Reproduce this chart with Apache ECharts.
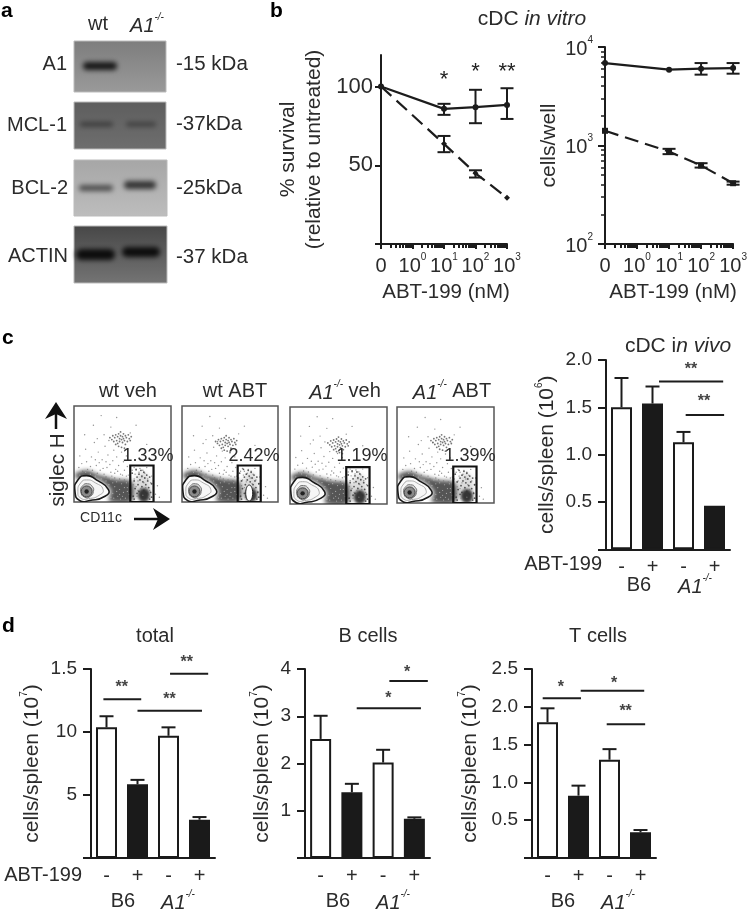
<!DOCTYPE html>
<html><head><meta charset="utf-8">
<style>html,body{margin:0;padding:0;background:#fff}#c{width:750px;height:910px}</style>
<script src="https://cdn.jsdelivr.net/npm/echarts@6/dist/echarts.min.js"></script>
</head><body><div id="c"></div>
<script>
// ---------- data ----------
const doseX = [0.1, 10, 100, 1000];              // "0" is drawn one decade below 10^0
const survivalWt = [100, 85.8, 86.9, 88.3];
const survivalWtErr = [[100,100],[82,89],[76.7,97.9],[79.4,98.9]];
const survivalKo = [100, 63.6, 44.9, 29.4];
const survivalKoErr = [[100,100],[58.3,68.6],[42.2,46.8],[29.4,29.4]];
const wellWt = [6870, 5880, 6020, 6110];
const wellWtErr = [[6870,6870],[5880,5880],[5240,6870],[5360,6870]];
const wellKo = [1410, 869, 626, 414];
const wellKoErr = [[1410,1410],[817,925],[597,661],[400,430]];
const treatment = ['-', '+', '-', '+'];
const cdcVivo = [1.5, 1.54, 1.13, 0.46];
const cdcVivoHi = [1.81, 1.72, 1.24, 0.465];
const totalCells = [10.37, 5.85, 9.7, 3.04];
const totalHi = [11.25, 6.2, 10.37, 3.25];
const bCells = [2.52, 1.39, 2.02, 0.83];
const bHi = [3.01, 1.57, 2.29, 0.86];
const tCells = [1.795, 0.825, 1.30, 0.34];
const tHi = [1.98, 0.957, 1.44, 0.37];
const flowTitles = ['wt veh', 'wt ABT', '{i|A1}{si|-/-} veh', '{i|A1}{si|-/-} ABT'];
const flowPercents = ['1.33%', '2.42%', '1.19%', '1.39%'];
const flowCluster = [[48,66],[46,62],[50,62],[46,64]];
const flowSpeckle = [[8,40],[12,55],[14,34],[18,47],[21,62],[23,38],[25,52],[27,33],[29,44],[31,70],[32,58],[34,36],[35,49],[38,78],[38,31],[40,43],[41,54],[43,34],[44,47],[46,38],[48,29],[49,52],[51,42],[52,33],[54,48],[55,37],[56,28],[9,32],[16,30],[24,66],[31,29],[36,64],[60,33],[63,29],[67,31],[70,26],[73,30],[62,24],[66,22],[72,20],[76,24],[64,16],[69,14],[74,15],[78,12],[80,27],[84,8],[86,17],[88,5],[58,72],[64,80],[20,80],[11,70],[6,48],[5,36],[42,25],[47,24],[52,23],[39,27],[33,26],[57,21],[61,18],[44,88],[75,60],[28,90],[66,12],[71,7],[77,6],[65,6],[60,11],[13,42],[17,37],[22,44],[26,41],[19,33],[30,35],[33,42],[37,39],[24,30],[42,30],[45,32],[50,28],[54,27],[58,26],[68,35],[75,36],[64,33],[79,20],[62,36],[71,33]];
const clusterDots = [[-11,1],[-9,-1],[-8,3],[-7,-3],[-6,1],[-5,4],[-4,-2],[-3,2],[-3,-5],[-2,5],[-1,0],[-1,-3],[0,3],[0,7],[1,-1],[2,-4],[2,2],[3,5],[3,0],[4,-2],[5,3],[5,-6],[6,1],[7,-3],[8,4],[9,0],[10,-2],[11,2],[-2,-8],[1,-9],[4,-10],[-5,-6]];
const gateDots = [[60,30],[62,22],[64,34],[65,26],[66,18],[67,29],[68,23],[69,33],[70,16],[70,27],[71,21],[72,12],[72,31],[73,25],[74,18],[75,9],[75,28],[76,22],[77,15],[78,26],[79,10],[80,19],[63,14],[65,9],[61,6],[67,11],[80,5],[78,3],[62,3]];
const smearHoles = [[36,18],[40,9],[42,16],[45,6],[47,13],[49,19],[51,10],[53,4],[55,15],[57,8],[38,24],[44,21],[28,24],[22,27],[33,22],[12,31],[17,29],[6,28],[41,4],[48,3],[54,20],[44,11],[52,15],[58,18],[38,5],[47,8],[55,11],[40,20],[50,6]];
const sigC = [[1.21,3.28,1.774],[2.07,3.31,1.418]];
const sigCLabels = [[2.24,1.93,'**'],[2.66,1.59,'**']];
const sigTotal = [[-0.10,1.12,12.6],[1.0,3.08,11.69],[2.05,3.28,14.63]];
const sigTotalLabels = [[0.49,13.8,'**'],[2.03,12.8,'**'],[2.59,15.77,'**']];
const sigB = [[1.155,3.21,3.17],[2.2,3.43,3.746]];
const sigBLabels = [[2.17,3.43,'*'],[2.77,3.98,'*']];
const sigT = [[-0.155,1.08,2.112],[1.07,3.12,2.213],[1.91,3.15,1.768]];
const sigTLabels = [[0.435,2.29,'*'],[2.145,2.35,'*'],[2.52,1.97,'**']];
const survivalStars = [[10,107,'*'],[100,112,'*'],[1000,112,'**']];

// ---------- style ----------
const FONT = '"Liberation Sans", Arial, sans-serif';
const INK = '#2b2b2b', LINE = '#1c1c1c';
const FS = 20, NS = 21;
const supRich = {
  r:{fontSize:FS,fontFamily:FONT,fill:INK,color:INK,lineHeight:24,verticalAlign:'bottom'},
  n:{fontSize:NS,fontFamily:FONT,fill:INK,color:INK,lineHeight:24,verticalAlign:'bottom'},
  i:{fontSize:FS,fontFamily:FONT,fontStyle:'italic',fill:INK,color:INK,lineHeight:24,verticalAlign:'bottom'},
  ni:{fontSize:NS,fontFamily:FONT,fontStyle:'italic',fill:INK,color:INK,lineHeight:24,verticalAlign:'bottom'},
  s:{fontSize:10,fontFamily:FONT,fill:INK,color:INK,lineHeight:16,verticalAlign:'top'},
  si:{fontSize:10,fontFamily:FONT,fontStyle:'italic',fill:INK,color:INK,lineHeight:16,verticalAlign:'top'}
};
const grid = [], xAxis = [], yAxis = [], series = [], gfx = [];
const axisLine = {show:true, onZero:false, lineStyle:{color:LINE, width:2}};
const tick = {show:true, length:8, lineStyle:{color:LINE, width:2}};

function addGrid(left, right, top, bottom){
  grid.push({left, top, width:right-left, height:bottom-top, show:false});
  return grid.length-1;
}
function errSeries(g, xs, lows, highs, cap, both){
  series.push({type:'custom', xAxisIndex:g, yAxisIndex:g, clip:false, z:4, silent:true,
    data: xs.map((x,i)=>[x, lows[i], highs[i]]),
    renderItem(p, api){
      const x = api.value(0), a = api.coord([x, api.value(1)]), b = api.coord([x, api.value(2)]);
      const st = {stroke:LINE, lineWidth:2, fill:null}, ch = [];
      if (Math.abs(a[1]-b[1]) < 0.5) return {type:'group', children:[]};
      ch.push({type:'line', shape:{x1:a[0],y1:a[1],x2:b[0],y2:b[1]}, style:st});
      ch.push({type:'line', shape:{x1:b[0]-cap,y1:b[1],x2:b[0]+cap,y2:b[1]}, style:st});
      if (both) ch.push({type:'line', shape:{x1:a[0]-cap,y1:a[1],x2:a[0]+cap,y2:a[1]}, style:st});
      return {type:'group', children:ch};
    }});
}
function sigSeries(g, lines, labels){
  series.push({type:'custom', xAxisIndex:g, yAxisIndex:g, clip:false, z:5, silent:true,
    data: lines.map(r=>[0, r[2]]),
    renderItem(p, api){
      const r = lines[p.dataIndex], o = api.coord([0, r[2]]), w = api.size([1,0])[0];
      return {type:'line', shape:{x1:o[0]+r[0]*w, y1:o[1], x2:o[0]+r[1]*w, y2:o[1]}, style:{stroke:LINE, lineWidth:2, fill:null}};
    }});
  series.push({type:'custom', xAxisIndex:g, yAxisIndex:g, clip:false, z:5, silent:true,
    data: labels.map(r=>[0, r[1]]),
    renderItem(p, api){
      const r = labels[p.dataIndex], o = api.coord([0, r[1]]), w = api.size([1,0])[0];
      return {type:'text', style:{text:r[2], x:o[0]+r[0]*w, y:o[1]+3, align:'center', verticalAlign:'middle', fontSize:16, fontFamily:FONT, fontWeight:'bold', fill:'#444'}};
    }});
}
function barPanel(left, right, top, bottom, ymax, ticks, labelFn, name, vals, hi, sig, sigL, nameGap){
  const g = addGrid(left, right, top, bottom);
  xAxis.push({gridIndex:g, type:'category', data:treatment, axisLine, axisTick:{show:false},
    axisLabel:{color:INK, fontFamily:FONT, fontSize:20, margin:8}});
  yAxis.push({gridIndex:g, type:'value', min:0, max:ymax, splitLine:{show:false}, axisLine, axisTick:{...tick, customValues:ticks},
    axisLabel:{customValues:ticks.slice(1), formatter:labelFn, color:INK, fontFamily:FONT, fontSize:19, margin:14},
    name, nameLocation:'middle', nameRotate:90, nameGap, nameTextStyle:{rich:supRich, color:INK, fontFamily:FONT, fontSize:NS}});
  series.push({type:'bar', xAxisIndex:g, yAxisIndex:g, barWidth:21, z:3, silent:true,
    data: vals.map((v,i)=>({value:v, itemStyle:{color:i%2?'#1a1a1a':'#fff', borderColor:'#1a1a1a', borderWidth:2}}))});
  errSeries(g, [0,1,2,3], vals, hi, 7, false);
  sigSeries(g, sig, sigL);
}
function logLabel(v){ const n = Math.round(Math.log10(v)); return '{r|10}{s|'+n+'}'; }
function linePanel(left, right, top, bottom, yCfg, a, aErr, b, bErr, symbolB){
  const g = addGrid(left, right, top, bottom);
  xAxis.push({gridIndex:g, type:'log', logBase:10, min:0.1, max:1000, axisLine, splitLine:{show:false},
    axisTick:{...tick, length:5}, minorTick:{show:true, splitNumber:9, length:4, lineStyle:{color:LINE, width:2}}, minorSplitLine:{show:false},
    axisLabel:{formatter:v=> v<0.5 ? '{r|0}' : logLabel(v), rich:supRich, margin:8, showMinLabel:true, showMaxLabel:true, hideOverlap:false}});
  yAxis.push({gridIndex:g, splitLine:{show:false}, axisLine, ...yCfg});
  series.push({type:'line', xAxisIndex:g, yAxisIndex:g, data:doseX.map((x,i)=>[x,a[i]]), z:3, silent:true,
    lineStyle:{color:LINE, width:2.2}, symbol:'circle', symbolSize:6, itemStyle:{color:LINE}});
  series.push({type:'line', xAxisIndex:g, yAxisIndex:g, data:doseX.map((x,i)=>[x,b[i]]), z:3, silent:true,
    lineStyle:{color:LINE, width:2.2, type:[14,7]}, symbol:symbolB, symbolSize:6, itemStyle:{color:LINE}});
  errSeries(g, doseX, aErr.map(e=>e[0]), aErr.map(e=>e[1]), 6.5, true);
  errSeries(g, doseX, bErr.map(e=>e[0]), bErr.map(e=>e[1]), 6.5, true);
  return g;
}

// ---------- panel b ----------
const gL = linePanel(381, 507, 55, 244, {type:'value', min:0, max:120,
    axisTick:{...tick, length:6, customValues:[0,50,100]},
    axisLabel:{customValues:[50,100], color:INK, fontFamily:FONT, fontSize:22, margin:8},
    name:'% survival\n(relative to untreated)', nameLocation:'middle', nameRotate:90, nameGap:54,
    nameTextStyle:{color:INK, fontFamily:FONT, fontSize:NS, lineHeight:26}},
  survivalWt, survivalWtErr, survivalKo, survivalKoErr, 'diamond');
series.push({type:'custom', xAxisIndex:gL, yAxisIndex:gL, clip:false, z:5, silent:true,
  data: survivalStars.map(r=>[r[0],r[1]]),
  renderItem(p, api){
    const o = api.coord([api.value(0), api.value(1)]);
    return {type:'text', style:{text:survivalStars[p.dataIndex][2], x:o[0], y:o[1]+4, align:'center', verticalAlign:'middle', fontSize:22, fontFamily:FONT, fill:'#222'}};
  }});
linePanel(605, 737, 47, 244, {type:'log', logBase:10, min:100, max:10000,
    axisTick:{...tick, length:7}, minorTick:{show:true, splitNumber:9, length:4, lineStyle:{color:LINE, width:1.5}}, minorSplitLine:{show:false},
    axisLabel:{formatter:logLabel, rich:supRich, margin:12},
    name:'cells/well', nameLocation:'middle', nameRotate:90, nameGap:45,
    nameTextStyle:{color:INK, fontFamily:FONT, fontSize:NS}},
  wellWt, wellWtErr, wellKo, wellKoErr, 'rect');

// ---------- panel c bars ----------
const nm6 = '{n|cells/spleen (10}{s|6}{n|)}', nm7 = '{n|cells/spleen (10}{s|7}{n|)}';
barPanel(606, 730, 360, 549.3, 2, [0,0.5,1,1.5,2], v=>v.toFixed(1), nm6, cdcVivo, cdcVivoHi, sigC, sigCLabels, 48);
// ---------- panel d bars ----------
barPanel(91, 215, 669, 858, 15, [0,5,10,15], v=>v===15?'1.5':String(v), nm7, totalCells, totalHi, sigTotal, sigTotalLabels, 48);
barPanel(305, 430, 669, 858, 4, [0,1,2,3,4], v=>String(v), nm7, bCells, bHi, sigB, sigBLabels, 32);
barPanel(532, 656, 669, 858, 2.5, [0,0.5,1,1.5,2,2.5], v=>v.toFixed(1), nm7, tCells, tHi, sigT, sigTLabels, 51);

// ---------- panel c flow plots ----------
const flowBoxes = [[74,171,406,502],[182,278,406,502],[290,387,407,504],[397,494,407,503]];
const outerDrop = [[1,11],[4,23],[13,27.5],[23,23],[35.5,13],[32,6],[16,1.5],[6,1.5]];
const midDrop = [[4,11],[7,20],[13,23],[22,20],[30,13],[26,7],[15,3.5],[7,4]];
const innerDrop = [[7,11],[9,17],[14,19],[19,16],[20,11],[17,6],[11,5]];
const smear = [[1,29],[13,33],[26,28],[42,24],[60,21],[60,1],[36,1],[38,12],[24,24],[4,24]];
const gate = [[58,0],[82,0],[82,38],[58,38]];
const OFF = 2000;
const blur = (c,b)=>({fill:c, shadowColor:c, shadowBlur:b, shadowOffsetX:OFF});
flowBoxes.forEach((b,k)=>{
  const g = addGrid(b[0], b[1], b[2], b[3]);
  grid[g].show = true; grid[g].borderColor='#555'; grid[g].borderWidth=1.5; grid[g].backgroundColor='#fff';
  xAxis.push({gridIndex:g, type:'value', min:0, max:100, show:false});
  yAxis.push({gridIndex:g, type:'value', min:0, max:100, show:false});
  series.push({type:'custom', xAxisIndex:g, yAxisIndex:g, clip:true, z:2, silent:true, data:[[0,0]],
    renderItem(p, api){
      const P = a => a.map(q=>api.coord(q));
      const gt = P(gate), ch = [];
      ch.push({type:'polygon', x:-OFF, shape:{points:P(smear), smooth:0.3}, style:blur('rgba(35,35,35,0.88)',4)});
      ch.push({type:'ellipse', x:-OFF, shape:{cx:(gt[0][0]+gt[1][0])/2+1,cy:gt[0][1]-15,rx:8,ry:15}, style:blur('rgba(110,110,110,0.5)',4)});
      ch.push({type:'ellipse', x:-OFF, shape:{cx:(gt[0][0]+gt[1][0])/2+2,cy:gt[0][1]-7,rx:6,ry:7}, style:blur('rgba(15,15,15,0.9)',3)});
      return {type:'group', children:ch};
    }});
  series.push({type:'scatter', xAxisIndex:g, yAxisIndex:g, symbolSize:1.4, z:3, silent:true,
    itemStyle:{color:'#777'}, data:flowSpeckle.map(p=>[p[0]+k%2, p[1]-k%2])});
  series.push({type:'scatter', xAxisIndex:g, yAxisIndex:g, symbolSize:1.8, z:3, silent:true,
    itemStyle:{color:'#555'}, data:clusterDots.map(d=>[flowCluster[k][0]+d[0], flowCluster[k][1]+d[1]])});
  series.push({type:'scatter', xAxisIndex:g, yAxisIndex:g, symbolSize:1.8, z:3, silent:true,
    itemStyle:{color:'#333'}, data:gateDots});
  series.push({type:'scatter', xAxisIndex:g, yAxisIndex:g, symbolSize:1.2, z:3, silent:true,
    itemStyle:{color:'#bdbdbd'}, data:smearHoles});
  series.push({type:'custom', xAxisIndex:g, yAxisIndex:g, clip:true, z:4, silent:true, data:[flowCluster[k]],
    renderItem(p, api){
      const P = a => a.map(q=>api.coord(q));
      const gt = P(gate), ch = [];
      if (k===1) ch.push({type:'ellipse', shape:{cx:(gt[0][0]+gt[1][0])/2,cy:gt[0][1]-9,rx:3.5,ry:8}, style:{fill:'#fff', stroke:'#222', lineWidth:1}});
      // contour drop
      ch.push({type:'polygon', shape:{points:P(outerDrop), smooth:0.6}, style:{fill:'#fbfbfb', stroke:'#1a1a1a', lineWidth:1.6}});
      ch.push({type:'polygon', shape:{points:P(midDrop), smooth:0.6}, style:{fill:'#f6f6f6', stroke:'#aaa', lineWidth:1}});
      ch.push({type:'polygon', shape:{points:P(innerDrop), smooth:0.6}, style:{fill:'#cfcfcf', stroke:'#777', lineWidth:1}});
      const c0 = api.coord([13,11]);
      ch.push({type:'circle', shape:{cx:c0[0],cy:c0[1],r:5.5}, style:{fill:'#8a8a8a', stroke:'#444', lineWidth:1}});
      ch.push({type:'circle', shape:{cx:c0[0],cy:c0[1],r:2.2}, style:{fill:'#222'}});
      // gate
      ch.push({type:'rect', shape:{x:gt[3][0], y:gt[3][1], width:gt[1][0]-gt[0][0], height:gt[0][1]-gt[3][1]}, style:{fill:null, stroke:'#111', lineWidth:2.2}});
      return {type:'group', children:ch};
    }});
});

// ---------- text helper ----------
function T(x, y, text, o={}){
  gfx.push({type:'text', z:20, silent:true, x, y, rotation:o.rot||0, style:Object.assign({text, x:0, y:0, fill:o.fill||INK, fontFamily:FONT,
    fontSize:o.size||FS, fontWeight:o.bold?'bold':'normal', fontStyle:o.italic?'italic':'normal',
    align:o.align||'center', verticalAlign:'middle', rich:supRich})});
}
['a','b','c','d'].forEach((l,i)=>T([1,270,2,2][i],[11,11,338,626][i],l,{bold:true,size:21,align:'left',fill:'#000'}));
// panel a
T(98,24,'wt'); T(147,24,'{i|A1}{si|-/-}');
T(67,64,'A1',{align:'right'}); T(67,125,'MCL-1',{align:'right'}); T(68,188,'BCL-2',{align:'right'}); T(68,256,'ACTIN',{align:'right'});
T(176,64,'-15 kDa',{align:'left',size:20.5}); T(176,124,'-37kDa',{align:'left',size:20.5}); T(176,188,'-25kDa',{align:'left',size:20.5}); T(176,257,'-37 kDa',{align:'left',size:20.5});
// panel b
T(532,18,'{n|cDC }{ni|in vitro}');
T(446,292,'ABT-199 (nM)',{size:20.5}); T(673,292,'ABT-199 (nM)',{size:20.5});
// panel c
T(678,345,'{n|cDC i}{ni|n vivo}');
flowTitles.forEach((t,i)=>T([128,235,345,452][i],391,t));
flowPercents.forEach((t,i)=>T([148,254,362,470][i],456,t,{size:18}));
T(58,470,'siglec H',{rot:Math.PI/2,size:20.5});
T(101,518,'CD11c',{size:14});
T(602,564,'ABT-199',{align:'right'}); T(639,585,'B6'); T(695,585,'{i|A1}{si|-/-}');
// panel d
T(155,636,'total'); T(368,636,'B cells'); T(598,636,'T cells');
T(82,875,'ABT-199',{align:'right'});
[[123,178],[338,393],[563,618]].forEach(p=>{T(p[0],901,'B6'); T(p[1],901,'{i|A1}{si|-/-}');});

// ---------- arrows ----------
gfx.push({type:'polygon', z:20, silent:true, shape:{points:[[56,402],[67,419],[56,414],[45,419]]}, style:{fill:'#111'}});
gfx.push({type:'line', z:20, silent:true, shape:{x1:56,y1:412,x2:56,y2:429}, style:{stroke:'#111',lineWidth:2.5}});
gfx.push({type:'polygon', z:20, silent:true, shape:{points:[[170,519],[153,508],[158,519],[153,530]]}, style:{fill:'#111'}});
gfx.push({type:'line', z:20, silent:true, shape:{x1:134,y1:519,x2:160,y2:519}, style:{stroke:'#111',lineWidth:2.5}});

// ---------- panel a blots ----------
const blots = [
  {box:[74,41,92,51], top:'#7d7d7d', bottom:'#9a9a9a', bands:[[83,62,34,8,'#161616']]},
  {box:[74,102,92,47], top:'#5e5e5e', bottom:'#6e6e6e', bands:[[80,122,33,4.5,'#3a3a3a'],[126,122,30,4.5,'#3e3e3e']]},
  {box:[74,160,93,56], top:'#a6a6a6', bottom:'#bdbdbd', bands:[[79,185,34,6,'#4c4c4c'],[124,181,32,8,'#333']]},
  {box:[74,226,93,57], top:'#474747', bottom:'#747474', bands:[[76,249,39,11,'#0c0c0c'],[122,247,38,10,'#0c0c0c']]}
];
blots.forEach(b=>{
  const [x,y,w,h] = b.box;
  gfx.push({type:'rect', z:10, silent:true, shape:{x,y,width:w,height:h},
    style:{fill:new echarts.graphic.LinearGradient(0,0,0,1,[{offset:0,color:b.top},{offset:1,color:b.bottom}]), stroke:'#bbb', lineWidth:1}});
  b.bands.forEach(s=>gfx.push({type:'rect', z:11, silent:true, x:-OFF, shape:{x:s[0],y:s[1],width:s[2],height:s[3],r:s[3]/2},
    style:{fill:s[4], shadowColor:s[4], shadowBlur:5, shadowOffsetX:OFF}}));
});

const chart = echarts.init(document.getElementById('c'), null, {renderer:'canvas', width:750, height:910});
chart.setOption({animation:false, backgroundColor:'#fff', textStyle:{fontFamily:FONT}, grid, xAxis, yAxis, series, graphic:{elements:gfx}, tooltip:{show:false}});
</script></body></html>
